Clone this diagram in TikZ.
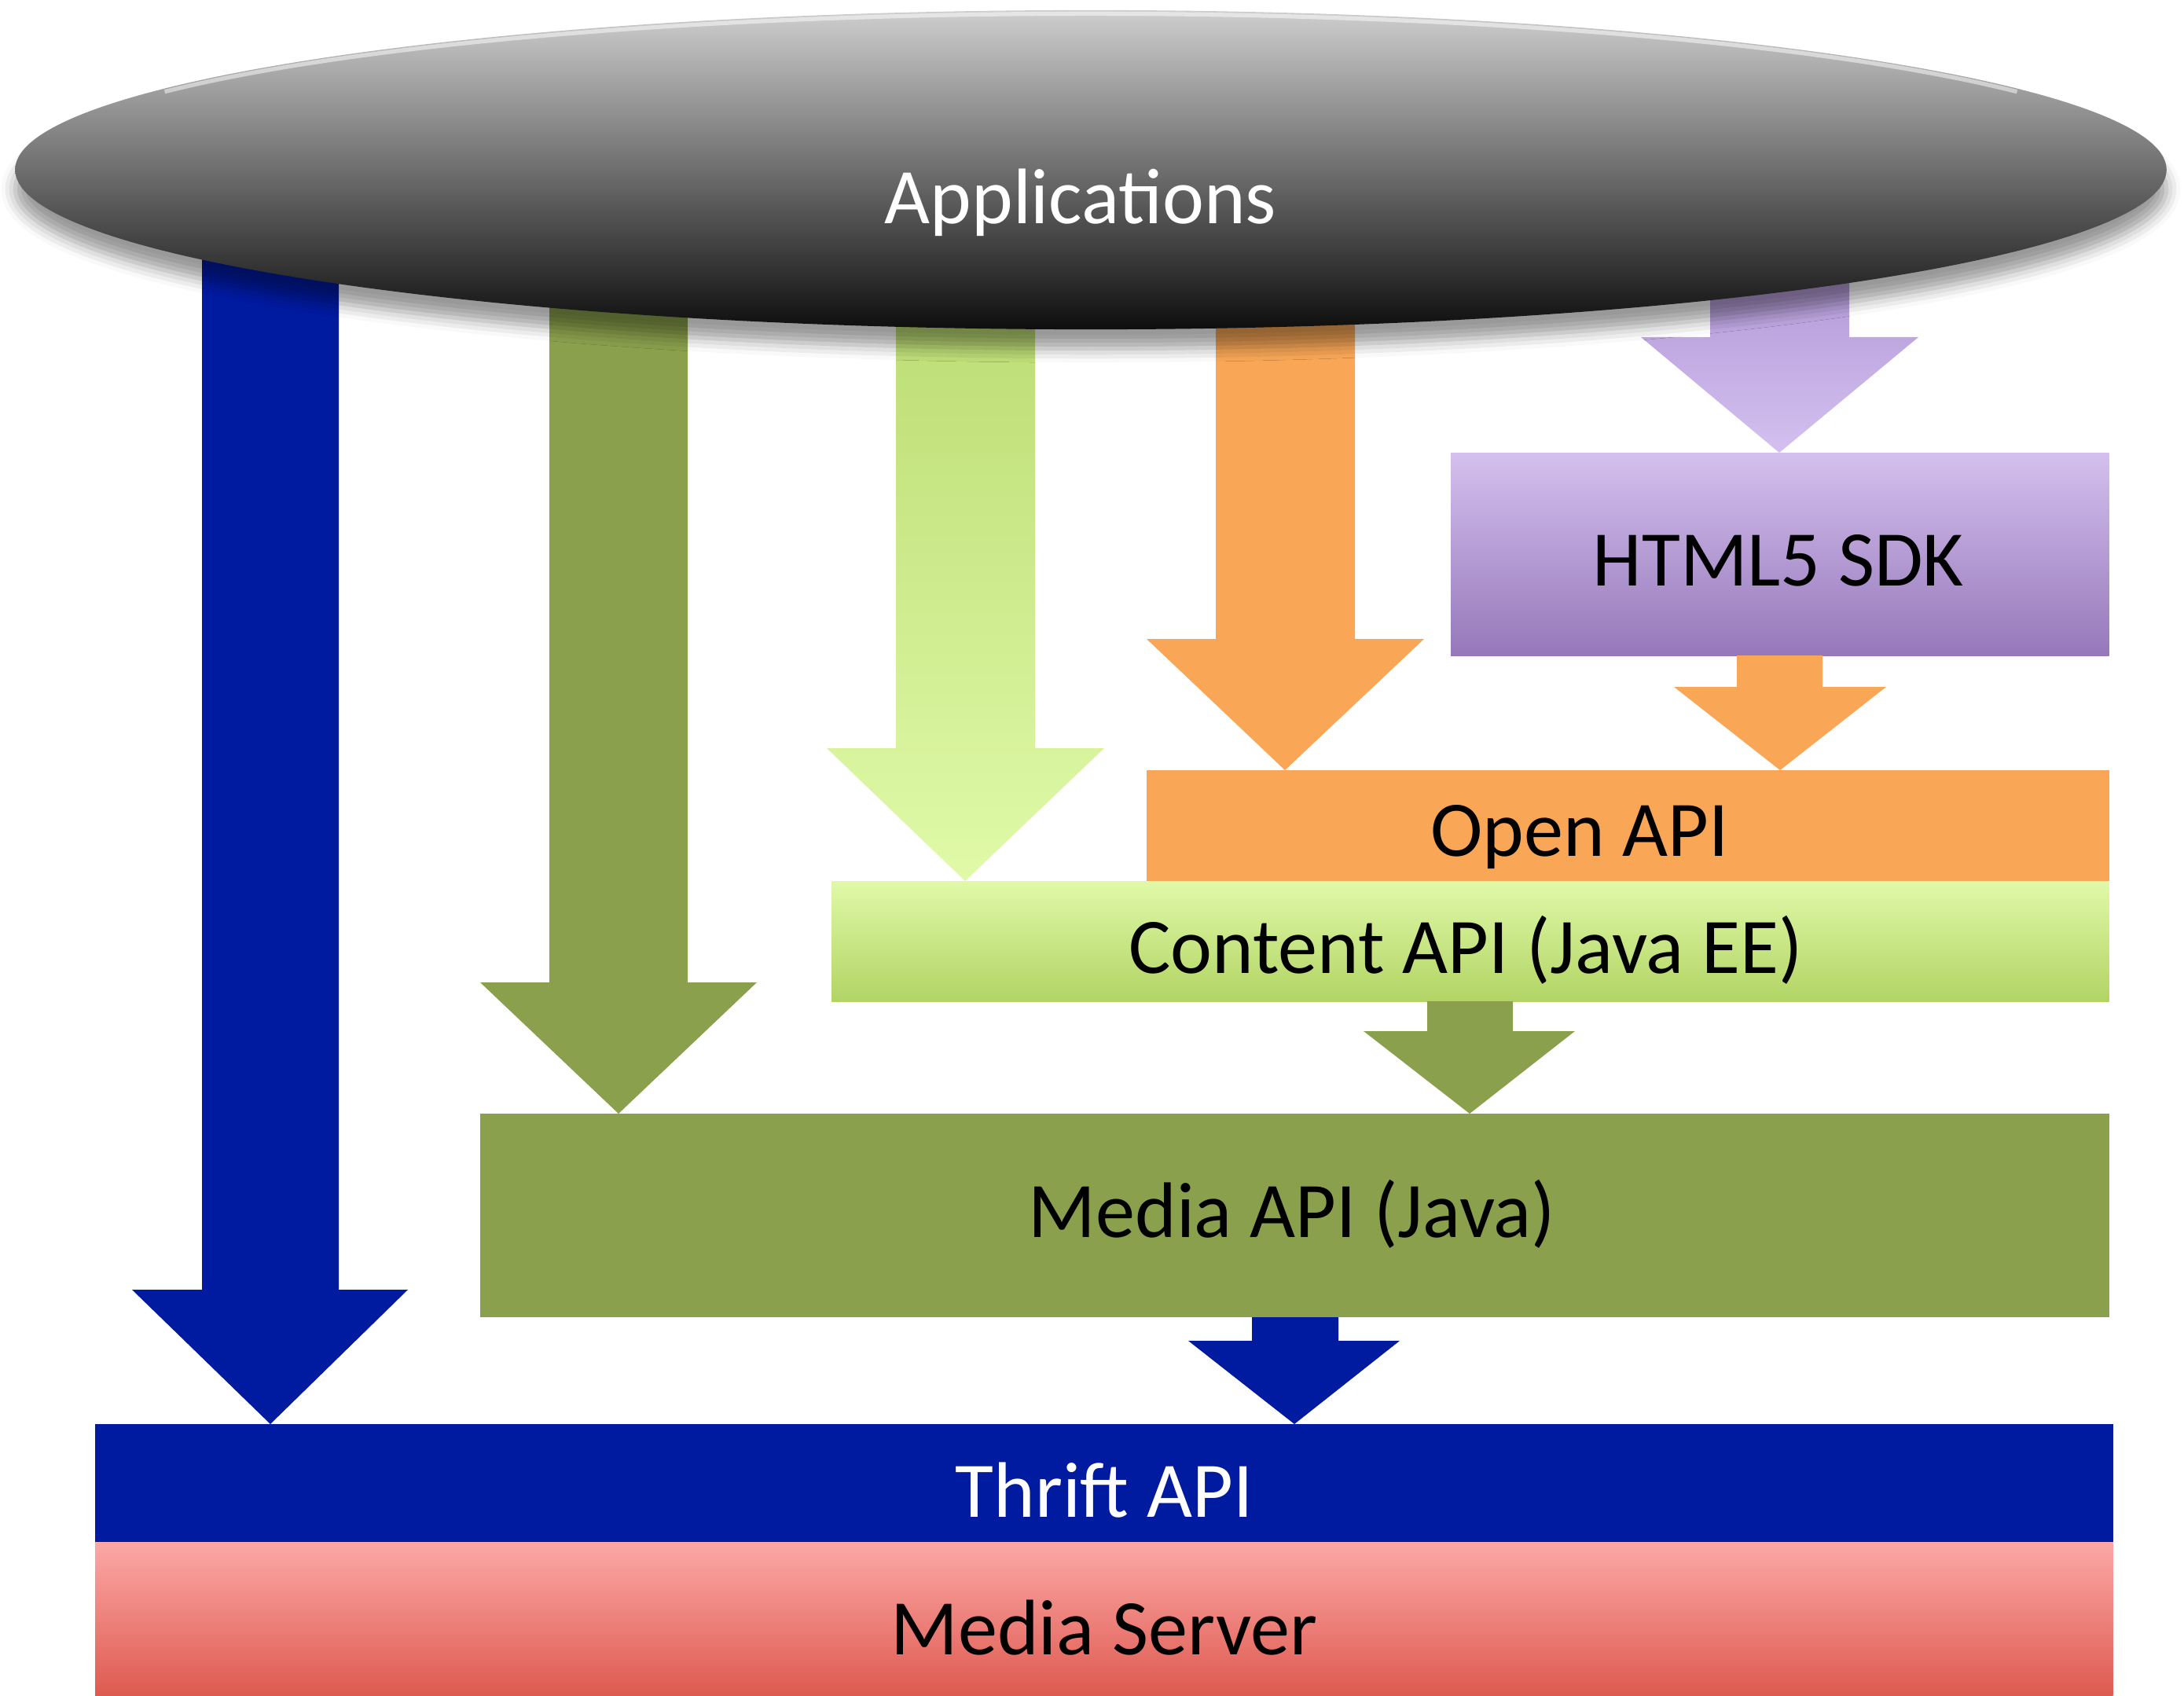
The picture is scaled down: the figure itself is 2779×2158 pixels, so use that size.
\documentclass[tikz,border=0pt]{standalone}
\usepackage{fontspec}
\setmainfont{Carlito}
\usetikzlibrary{shapes.geometric,shadows.blur,calc}
\definecolor{cblue}{RGB}{0,26,160}
\definecolor{cdkgreen}{RGB}{138,160,76}
\definecolor{corange}{RGB}{249,167,87}
\definecolor{cltTop}{RGB}{224,249,168}
\definecolor{cltBot}{RGB}{178,212,100}
\definecolor{cltArrTop}{RGB}{180,214,104}
\definecolor{cltArrBot}{RGB}{224,250,168}
\definecolor{cpurArrTop}{RGB}{160,132,200}
\definecolor{cpurArrBot}{RGB}{212,192,240}
\definecolor{cpurTop}{RGB}{212,192,238}
\definecolor{cpurBot}{RGB}{150,120,186}
\definecolor{csrvTop}{RGB}{252,168,166}
\definecolor{csrvBot}{RGB}{222,90,80}
\definecolor{celTop}{RGB}{206,206,206}
\definecolor{celBot}{RGB}{14,14,14}
% #1 style, #2 start ref, #3 shaft L, #4 shaft R, #5 head L, #6 head R, #7 head y, #8 tip x, #9 target
\newcommand\blockarrow[9]{\path[#1] (#3,0 |- #2) -- (#3,#7) -- (#5,#7) -- (#8,0 |- #9) -- (#6,#7) -- (#4,#7) -- (#4,0 |- #2) -- cycle;}
\begin{document}
\begin{tikzpicture}[x=0.01cm,y=-0.01cm,
  box/.style={rectangle,inner sep=0pt,outer sep=0pt,anchor=north west,draw=none},
  lbl/.style={anchor=base,inner sep=0pt,font=\fontsize{28.5}{34}\selectfont}]
\useasboundingbox (0,0) rectangle (2779,2158);
\coordinate (appc) at (1388,216);
% boxes
\node[box, top color=cpurTop, bottom color=cpurBot, minimum width=8.37cm, minimum height=2.58cm] (html) at (1846,576) {};
\node[box, fill=corange, minimum width=12.24cm, minimum height=1.41cm] (open) at (1459,980) {};
\node[box, top color=cltTop, bottom color=cltBot, minimum width=16.25cm, minimum height=1.53cm] (content) at (1058,1121) {};
\node[box, fill=cdkgreen, minimum width=20.72cm, minimum height=2.59cm] (media) at (611,1417) {};
\node[box, fill=cblue, minimum width=25.66cm, minimum height=1.50cm] (thrift) at (121,1812) {};
\node[box, top color=csrvTop, bottom color=csrvBot, minimum width=25.66cm, minimum height=1.96cm] (server) at (121,1962) {};
% arrows
\blockarrow{fill=cblue}{appc}{257}{431}{168}{519}{1641}{344}{thrift.north}
\blockarrow{fill=cdkgreen}{appc}{699}{875}{611}{963}{1250}{787}{media.north}
\blockarrow{top color=cltArrTop, bottom color=cltArrBot}{appc}{1140}{1317}{1052}{1405}{952}{1228}{content.north}
\blockarrow{fill=corange}{appc}{1547}{1724}{1459}{1812}{813}{1635}{open.north}
\blockarrow{top color=cpurArrTop, bottom color=cpurArrBot}{appc}{2176}{2353}{2088}{2441}{429}{2264}{html.north}
\blockarrow{fill=corange}{html.south}{2210}{2319}{2130}{2400}{874}{2265}{open.north}
\blockarrow{fill=cdkgreen}{content.south}{1816}{1925}{1735}{2004}{1312}{1870}{media.north}
\blockarrow{fill=cblue}{media.south}{1593}{1703}{1512}{1781}{1706}{1647}{thrift.north}
% applications ellipse
\node[shape=ellipse, inner sep=0pt, minimum width=27.36cm, minimum height=4.06cm,
  top color=celTop, bottom color=celBot,
  blur shadow={shadow xshift=0pt, shadow yshift=-7pt, shadow opacity=40, shadow blur radius=5pt}] (app) at (appc) {};
\draw[white, opacity=0.5, line width=1.5pt] ($(appc)+(30:13.6cm and 1.985cm)$) arc[start angle=30, end angle=150, x radius=13.6cm, y radius=1.985cm];
% labels
\node[lbl, white] (tapp) at (1375,285) {Applications};
\node[lbl] (thtml) at (2263,745) {HTML5 SDK};
\node[lbl] (topen) at (2010,1089) {Open API};
\node[lbl] (tcontent) at (1865,1238) {Content API (Java EE)};
\node[lbl] (tmedia) at (1644,1574) {Media API (Java)};
\node[lbl, white] (tthrift) at (1405,1930) {Thrift API};
\node[lbl] (tserver) at (1405,2105) {Media Server};
\end{tikzpicture}
\end{document}
